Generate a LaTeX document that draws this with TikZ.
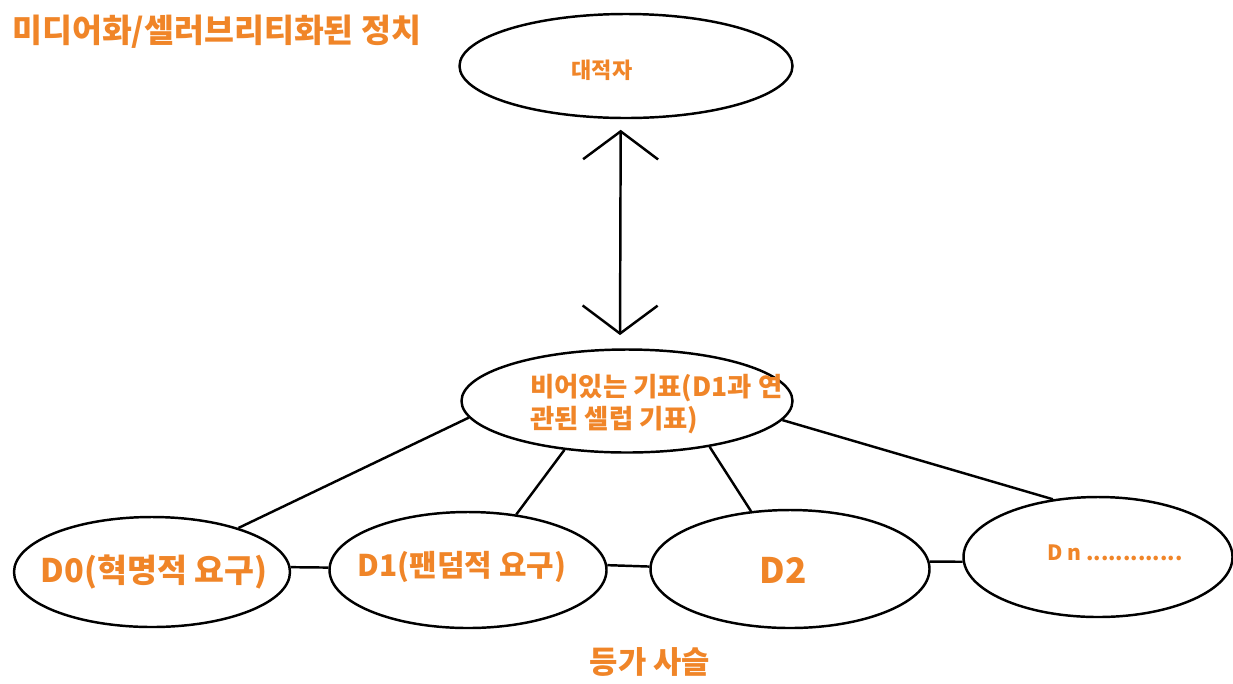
\documentclass[tikz,border=0pt]{standalone}
\usepackage{fontspec}
\setmainfont{Noto Sans CJK KR}
\usetikzlibrary{shapes.geometric,arrows.meta}
\definecolor{korange}{RGB}{240,133,40}
\begin{document}
\begin{tikzpicture}[x=0.2mm,y=-0.2mm,
  ell/.style={draw=black,line width=1.4pt,ellipse,inner sep=0pt},
  lbl/.style={text=korange,font=\bfseries,inner sep=0pt},
  conn/.style={draw=black,line width=1.4pt}]
\useasboundingbox (0,0) rectangle (1233,683);
% ellipses
\node[ell,minimum width=6.66cm,minimum height=2.08cm] (top) at (626,66) {};
\node[ell,minimum width=6.62cm,minimum height=2.06cm] (mid) at (627,401) {};
\node[ell,minimum width=5.52cm,minimum height=2.2cm] (d0) at (152,572) {};
\node[ell,minimum width=5.54cm,minimum height=2.32cm] (d1) at (468,570) {};
\node[ell,minimum width=5.58cm,minimum height=2.36cm] (d2) at (790,569) {};
\node[ell,minimum width=5.38cm,minimum height=2.4cm] (dn) at (1098,557) {};
% texts
\node[lbl,anchor=west,font=\bfseries\fontsize{18.5}{22}\selectfont] (title) at (12,32) {미디어화/셀러브리티화된 정치};
\node[lbl,font=\bfseries\fontsize{12.5}{14}\selectfont] (ttop) at (602,70) {대적자};
\node[lbl,anchor=west,align=left,font=\bfseries\fontsize{15}{18}\selectfont] (tmid) at (530,404) {비어있는 기표(D1과 연\\관된 셀럽 기표)};
\node[lbl,font=\bfseries\fontsize{18.5}{20}\selectfont] (td0) at (154,572) {D0(혁명적 요구)};
\node[lbl,font=\bfseries\fontsize{17}{20}\selectfont] (td1) at (462,567) {D1(팬덤적 요구)};
\node[lbl,font=\bfseries\fontsize{20}{22}\selectfont] (td2) at (783,570) {D2};
\node[lbl,anchor=west,font=\bfseries\fontsize{12}{14}\selectfont] (tdn) at (1047,553) {D n .............};
\node[lbl,font=\bfseries\fontsize{17.5}{20}\selectfont] (chain) at (650,662) {등가 사슬};
% arrow
\draw[line width=1.4pt,{Straight Barb[length=5.6mm,width=15mm]}-{Straight Barb[length=5.6mm,width=15mm]},shorten <=6pt,shorten >=7.5pt] ([xshift=-3]top.south) -- ([xshift=-4]mid.north);
% connectors
\draw[conn] (mid.186) -- (d0.27);
\draw[conn] (mid.218.6) -- (d1.49);
\draw[conn] (mid.331) -- (d2.124);
\draw[conn] (mid.353) -- (dn.128);
\draw[conn] (d0.2) -- (d1.179);
\draw[conn] (d1.2) -- (d2.179);
\draw[conn] (d2.3) -- (dn.182);
\end{tikzpicture}
\end{document}
